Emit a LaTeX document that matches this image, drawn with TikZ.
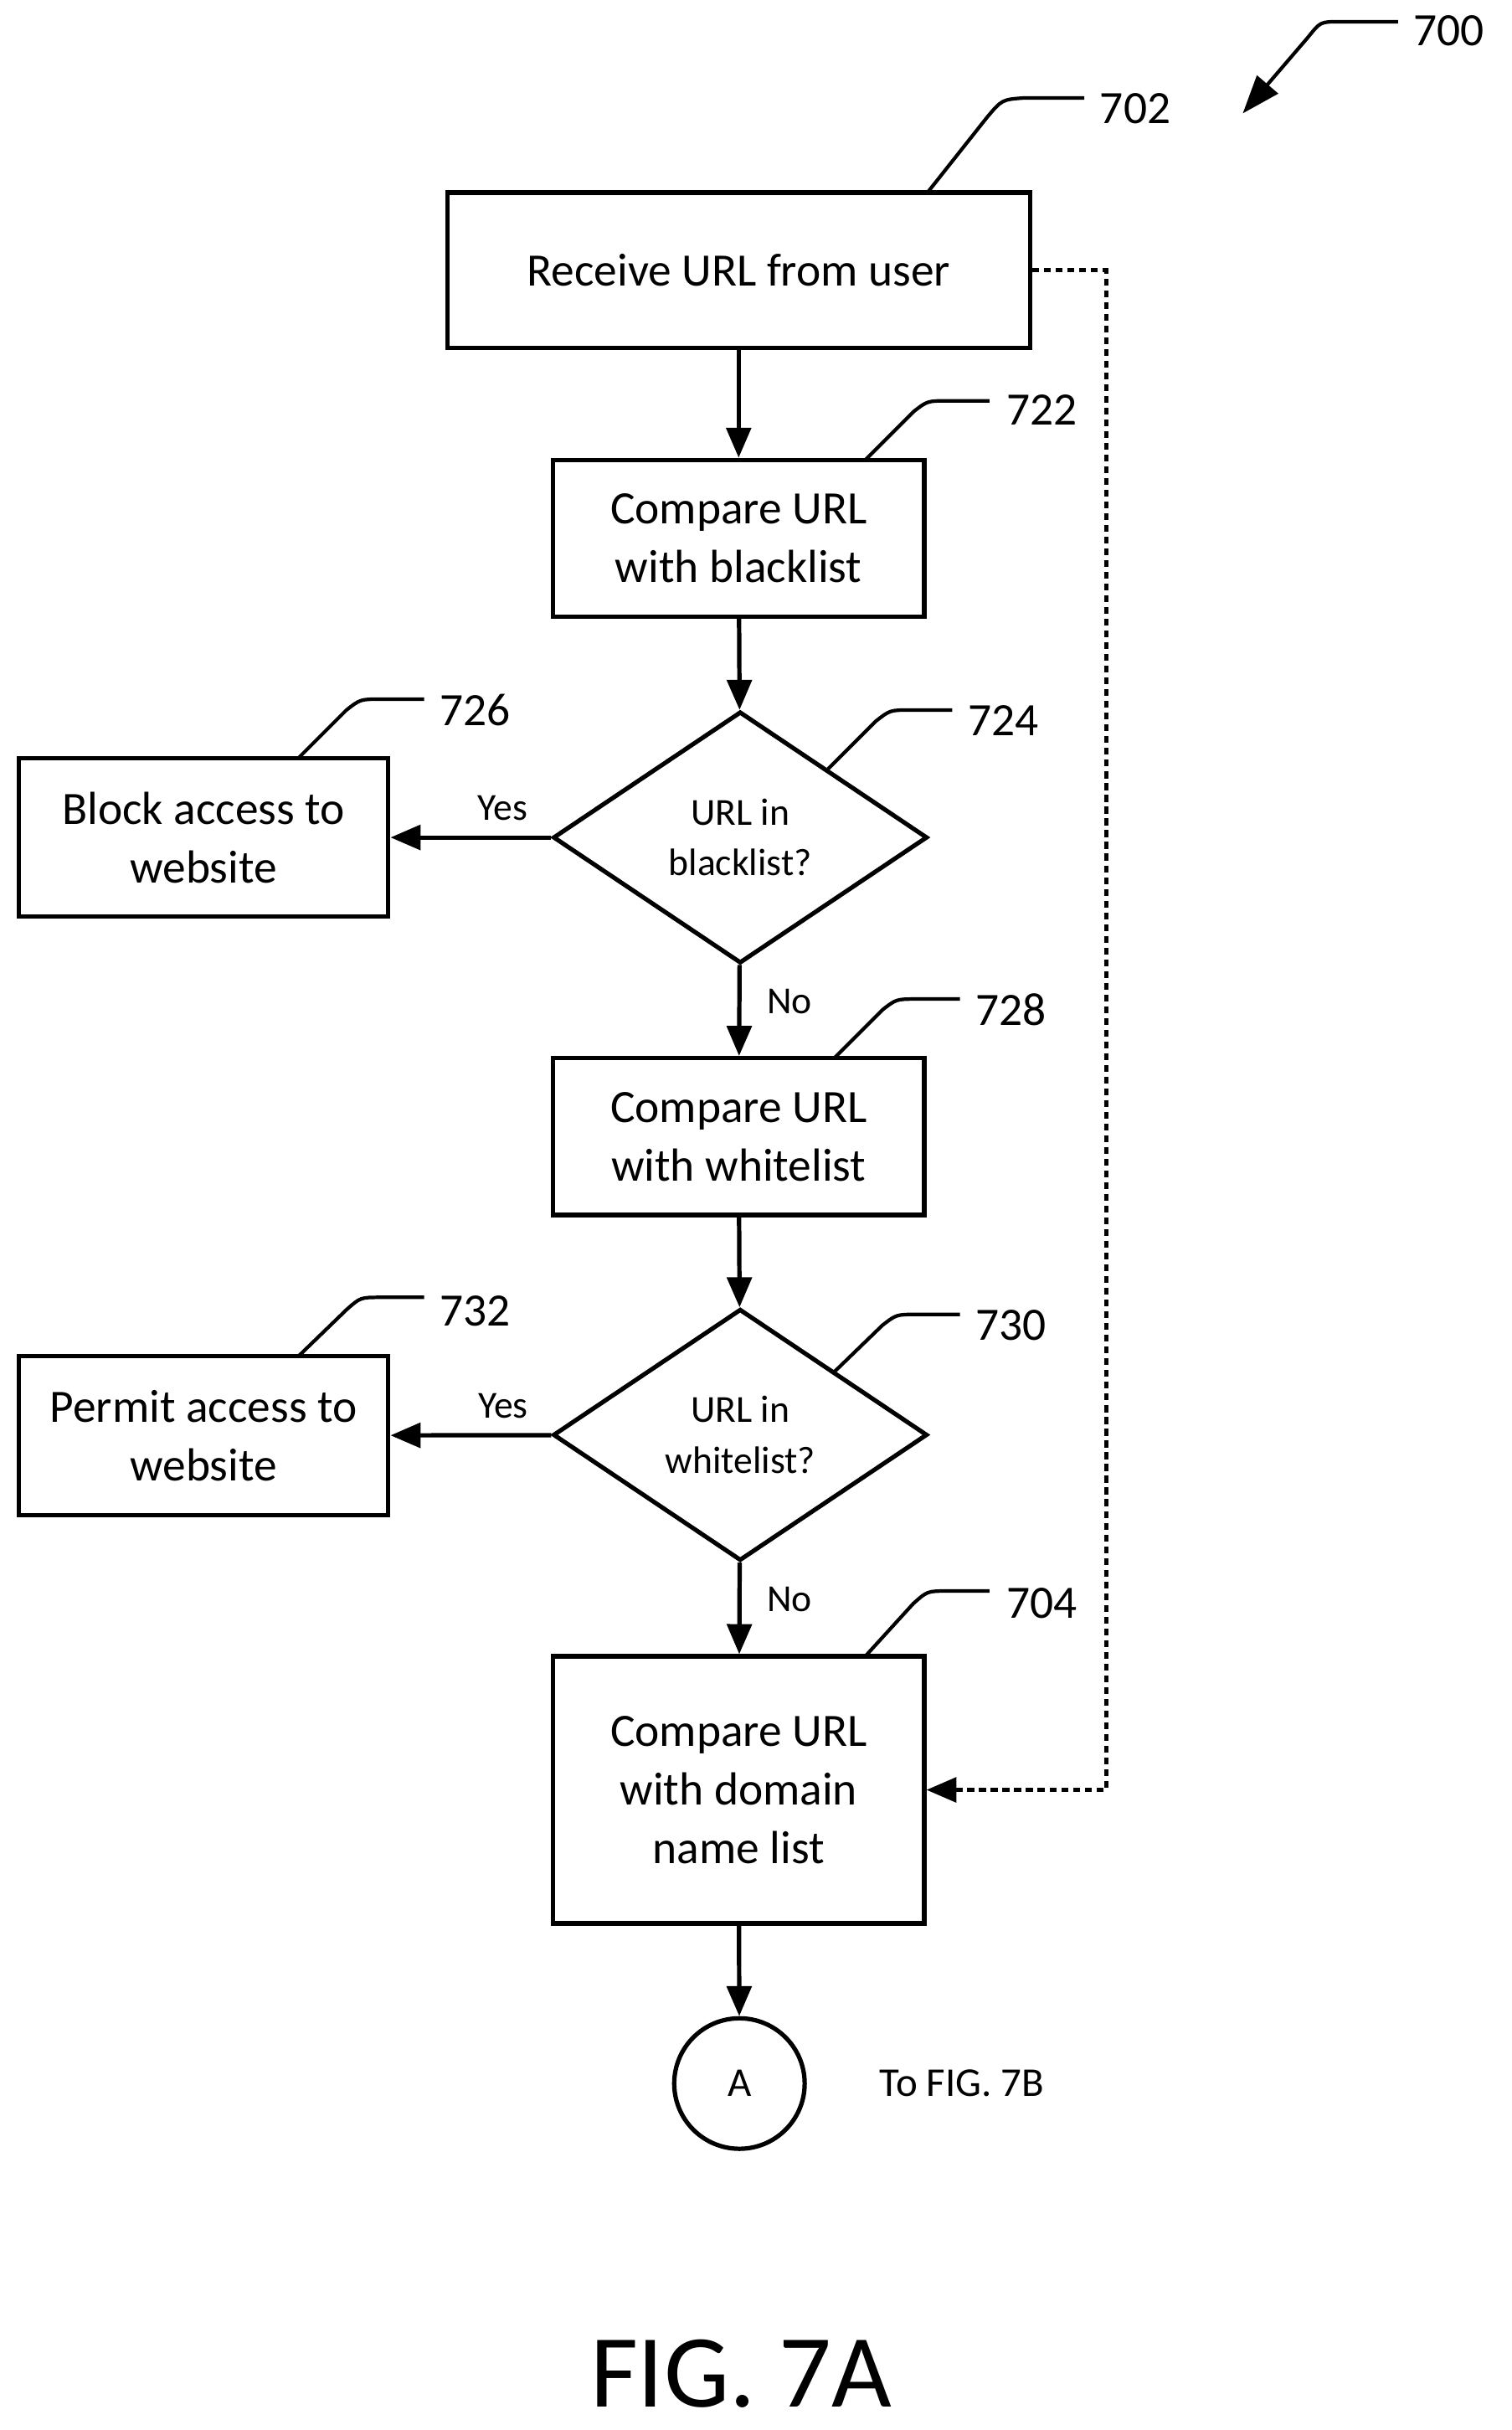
\documentclass[tikz,border=0pt]{standalone}
\usepackage{fontspec}
\setmainfont{Carlito}
\usetikzlibrary{arrows.meta,shapes.geometric}
\begin{document}
\begin{tikzpicture}[x=0.02cm,y=-0.02cm,
  every node/.style={font=\fontsize{17}{21.5}\selectfont},
  box/.style={draw,line width=1.6pt,minimum width=4.78cm,minimum height=2.02cm,align=center,inner sep=0pt},
  dia/.style={draw,line width=1.6pt,diamond,minimum width=4.82cm,minimum height=3.24cm,aspect=1.5,inner sep=0pt,align=center,font=\fontsize{14}{18.5}\selectfont},
  arr/.style={line width=1.6pt,-{Triangle[length=11pt,width=9pt]}},
  lead/.style={line width=1.3pt},
  num/.style={anchor=west,inner sep=1pt},
  lab/.style={font=\fontsize{14}{17}\selectfont}]
\useasboundingbox (0,0) rectangle (973,1564);
\node[box,minimum width=7.5cm,minimum height=2cm] (b702) at (475.5,174) {Receive URL from user};
\node[box] (b722) at (475.5,346.5) {Compare URL\\with blacklist};
\node[dia] (d724) at (476.5,539) {URL in\\blacklist?};
\node[box,minimum width=4.76cm,minimum height=2.04cm] (b726) at (131,539) {Block access to\\website};
\node[box] (b728) at (475.5,731.5) {Compare URL\\with whitelist};
\node[dia] (d730) at (476.5,923.5) {URL in\\whitelist?};
\node[box,minimum width=4.76cm,minimum height=2.04cm] (b732) at (131,924) {Permit access to\\website};
\node[box,minimum height=3.44cm] (b704) at (475.5,1152) {Compare URL\\with domain\\name list};
\node[draw,circle,line width=1.6pt,minimum size=1.68cm,inner sep=0pt,font=\fontsize{15}{18}\selectfont] (cA) at (476,1341) {A};
\node[anchor=west,font=\fontsize{15}{18}\selectfont] (to) at (560,1341) {To FIG. 7B};
\node[font=\fontsize{38}{44}\selectfont] (fig) at (477,1528) {FIG. 7A};

\draw[arr] (b702) -- (b722);
\draw[arr] (b722) -- (d724);
\draw[arr] (d724) -- node[lab,above,pos=0.3,yshift=2pt] (y1) {Yes} (b726);
\draw[arr] (d724) -- node[lab,right,pos=0.4,xshift=6pt] (n1) {No} (b728);
\draw[arr] (b728) -- (d730);
\draw[arr] (d730) -- node[lab,above,pos=0.3,yshift=2pt] (y2) {Yes} (b732);
\draw[arr] (d730) -- node[lab,right,pos=0.4,xshift=6pt] (n2) {No} (b704);
\draw[arr] (b704) -- (cA);
\coordinate (dt1) at (712,174);
\coordinate (dt2) at (712,1152);
\draw[line width=1.6pt,dash pattern=on 2.5pt off 1.8pt,-{Triangle[length=11pt,width=9pt]}] (b702.east) -- (dt1) -- (dt2) -- (b704.east);

% leaders
\node[num] (l702) at (706,70) {702};
\draw[lead] (597,124) -- (635,76) .. controls (645,64) .. (660,63) -- (698,63);
\node[num] (l722) at (646,264) {722};
\draw[lead] (557,296) -- (588,265) .. controls (597,258) .. (610,258) -- (637,258);
\node[num] (l724) at (621,464) {724};
\draw[lead] (533,495) -- (564,464) .. controls (573,457) .. (586,457) -- (613,457);
\node[num] (l726) at (281,457) {726};
\draw[lead] (192,488) -- (223,457) .. controls (232,450) .. (245,450) -- (273,450);
\node[num] (l728) at (626,650) {728};
\draw[lead] (537,681) -- (568,650) .. controls (577,643) .. (590,643) -- (618,643);
\node[num] (l730) at (626,853) {730};
\draw[lead] (537,883) -- (568,853) .. controls (577,846) .. (590,846) -- (618,846);
\node[num] (l732) at (281,844) {732};
\draw[lead] (192,873) -- (223,843) .. controls (232,835) .. (245,835) -- (273,835);
\node[num] (l704) at (646,1032) {704};
\draw[lead] (557,1066) -- (588,1032) .. controls (597,1024) .. (610,1024) -- (637,1024);
\node[num] (l700) at (908,20) {700};
\coordinate (a0) at (900,14);
\coordinate (a1) at (800,73);
\draw[lead,-{Triangle[length=14pt,width=10pt]}] (a0) -- (862,14) .. controls (850,14) .. (842,24) -- (a1);
\end{tikzpicture}
\end{document}
